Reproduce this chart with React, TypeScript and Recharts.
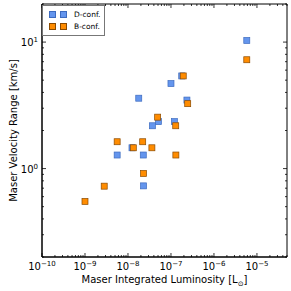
import React from "react";
import {
  ScatterChart,
  Scatter,
  XAxis,
  YAxis,
  ReferenceArea,
  Legend,
} from "recharts";

// D-configuration points
const dLum = [5.8e-6, 1.78e-7, 1.0e-7, 1.78e-8, 2.35e-7, 5.1e-8, 1.2e-7, 3.7e-8, 1.24e-8, 5.6e-9, 2.27e-8, 2.3e-8];
const dVel = [10.3, 5.4, 4.7, 3.6, 3.48, 2.35, 2.35, 2.18, 1.46, 1.28, 1.28, 0.73];

// B-configuration points
const bLum = [5.8e-6, 1.93e-7, 2.45e-7, 4.9e-8, 1.29e-7, 5.6e-9, 2.2e-8, 1.33e-8, 3.6e-8, 1.3e-7, 2.3e-8, 2.8e-9, 1.0e-9];
const bVel = [7.25, 5.4, 3.26, 2.55, 2.18, 1.63, 1.63, 1.46, 1.46, 1.28, 0.915, 0.726, 0.55];

const xDomain = [1e-10, 5e-5];
const yDomain = [0.2, 20];
const xMajorExps = [-10, -9, -8, -7, -6, -5];
const yMajorExps = [-1, 0, 1];
const minorMults = [2, 3, 4, 5, 6, 7, 8, 9];

const seriesNames = ["D-conf.", "B-conf."];
const BLUE = "#6495ED";
const BLUE_EDGE = "#3d6bbf";
const ORANGE = "#FF8C00";
const ORANGE_EDGE = "#8a4a00";

const FONT = "DejaVu Sans";
const PLOT_TOP = 4;
const PLOT_RIGHT = 287;

const buildTicks = (exps: number[], dom: number[]) => {
  const out: number[] = [];
  exps.forEach((e) => {
    const base = Math.pow(10, e);
    [1, ...minorMults].forEach((m) => {
      const v = m * base;
      if (v >= dom[0] * 0.999 && v <= dom[1] * 1.001) out.push(v);
    });
  });
  return out;
};

const xTicks = buildTicks(xMajorExps, xDomain);
const yTicks = buildTicks(yMajorExps, yDomain);

const dData = dLum.map((x, i) => ({ x, y: dVel[i] }));
const bData = bLum.map((x, i) => ({ x, y: bVel[i] }));

const isMajor = (v: number) => {
  const e = Math.log10(v);
  return Math.abs(e - Math.round(e)) < 1e-6;
};

const expLabel = (v: number) => {
  const e = Math.round(Math.log10(v));
  return e < 0 ? "\u2212" + Math.abs(e) : String(e);
};

function XTick(props: any) {
  const { x, y, payload } = props;
  const major = isMajor(payload.value);
  const len = major ? 4 : 2;
  return (
    <g>
      <line x1={x} x2={x} y1={y} y2={y - len} stroke="#000" strokeWidth={0.8} />
      <line x1={x} x2={x} y1={PLOT_TOP} y2={PLOT_TOP + len} stroke="#000" strokeWidth={0.8} />
      {major && (
        <text x={x} y={y + 13} textAnchor="middle" fontSize={10} fontFamily={FONT} fill="#000">
          10
          <tspan dy={-4} fontSize={7}>
            {expLabel(payload.value)}
          </tspan>
        </text>
      )}
    </g>
  );
}

function YTick(props: any) {
  const { x, y, payload } = props;
  const major = isMajor(payload.value);
  const len = major ? 4 : 2;
  const showLabel = major && payload.value >= 1;
  return (
    <g>
      <line x1={x} x2={x + len} y1={y} y2={y} stroke="#000" strokeWidth={0.8} />
      <line x1={PLOT_RIGHT} x2={PLOT_RIGHT - len} y1={y} y2={y} stroke="#000" strokeWidth={0.8} />
      {showLabel && (
        <text x={x - 4} y={y + 4} textAnchor="end" fontSize={10} fontFamily={FONT} fill="#000">
          10
          <tspan dy={-4} fontSize={7}>
            {expLabel(payload.value)}
          </tspan>
        </text>
      )}
    </g>
  );
}

const square = (fill: string, stroke: string) => (p: any) => (
  <rect x={p.cx - 3} y={p.cy - 3} width={6} height={6} fill={fill} stroke={stroke} strokeWidth={0.7} />
);

function LegendBox() {
  const colors = [
    [BLUE, BLUE_EDGE],
    [ORANGE, ORANGE_EDGE],
  ];
  return (
    <div
      style={{
        display: "inline-block",
        border: "1px solid #777",
        background: "#fff",
        padding: "3px 4px 3px 6px",
        whiteSpace: "nowrap",
        fontFamily: FONT,
        fontSize: 7.5,
        lineHeight: "11.5px",
      }}
    >
      {seriesNames.map((n, i) => (
        <div key={n} style={{ display: "flex", alignItems: "center" }}>
          {[0, 1].map((k) => (
            <span
              key={k}
              style={{
                display: "inline-block",
                flex: "none",
                width: 5,
                height: 5,
                background: colors[i][0],
                border: `0.7px solid ${colors[i][1]}`,
                marginRight: 4,
              }}
            />
          ))}
          <span style={{ marginLeft: 3 }}>{n}</span>
        </div>
      ))}
    </div>
  );
}

export default function App() {
  return (
    <div style={{ position: "absolute", left: 0, top: 0, background: "#fff" }}>
      <ScatterChart
        width={291}
        height={291}
        margin={{ top: PLOT_TOP, right: 291 - PLOT_RIGHT, left: 0, bottom: 0 }}
      >
        <XAxis
          dataKey="x"
          type="number"
          scale="log"
          domain={xDomain}
          ticks={xTicks}
          interval={0}
          allowDataOverflow
          height={34}
          tickSize={0}
          tickMargin={0}
          tickLine={false}
          axisLine={{ stroke: "#000" }}
          tick={<XTick />}
          label={{
            content: (lp: any) => {
              const vb = lp.viewBox;
              return (
                <text
                  x={vb.x + vb.width / 2}
                  y={283}
                  textAnchor="middle"
                  fontSize={10}
                  fontFamily={FONT}
                  fill="#000"
                >
                  Maser Integrated Luminosity [L
                  <tspan dy={3} fontSize={7}>
                    ⊙
                  </tspan>
                  <tspan dy={-3}>]</tspan>
                </text>
              );
            },
          }}
        />
        <YAxis
          dataKey="y"
          type="number"
          scale="log"
          domain={yDomain}
          ticks={yTicks}
          interval={0}
          allowDataOverflow
          width={42}
          tickSize={0}
          tickMargin={0}
          tickLine={false}
          axisLine={{ stroke: "#000" }}
          tick={<YTick />}
          label={{
            content: (lp: any) => {
              const vb = lp.viewBox;
              const cy = vb.y + vb.height / 2;
              return (
                <text
                  x={13}
                  y={cy}
                  transform={`rotate(-90 13 ${cy})`}
                  textAnchor="middle"
                  dominantBaseline="central"
                  fontSize={10}
                  fontFamily={FONT}
                  fill="#000"
                >
                  Maser Velocity Range [km/s]
                </text>
              );
            },
          }}
        />
        <ReferenceArea
          x1={xDomain[0]}
          x2={xDomain[1]}
          y1={yDomain[0]}
          y2={yDomain[1]}
          fill="none"
          stroke="#000"
          strokeWidth={1}
          ifOverflow="visible"
        />
        <Scatter
          name={seriesNames[0]}
          data={dData}
          shape={square(BLUE, BLUE_EDGE)}
          isAnimationActive={false}
        />
        <Scatter
          name={seriesNames[1]}
          data={bData}
          shape={square(ORANGE, ORANGE_EDGE)}
          isAnimationActive={false}
        />
        <Legend
          layout="horizontal"
          verticalAlign="middle"
          align="center"
          content={() => <LegendBox />}
          wrapperStyle={{ position: "absolute", left: 42, top: 5, width: "auto" }}
        />
      </ScatterChart>
    </div>
  );
}
